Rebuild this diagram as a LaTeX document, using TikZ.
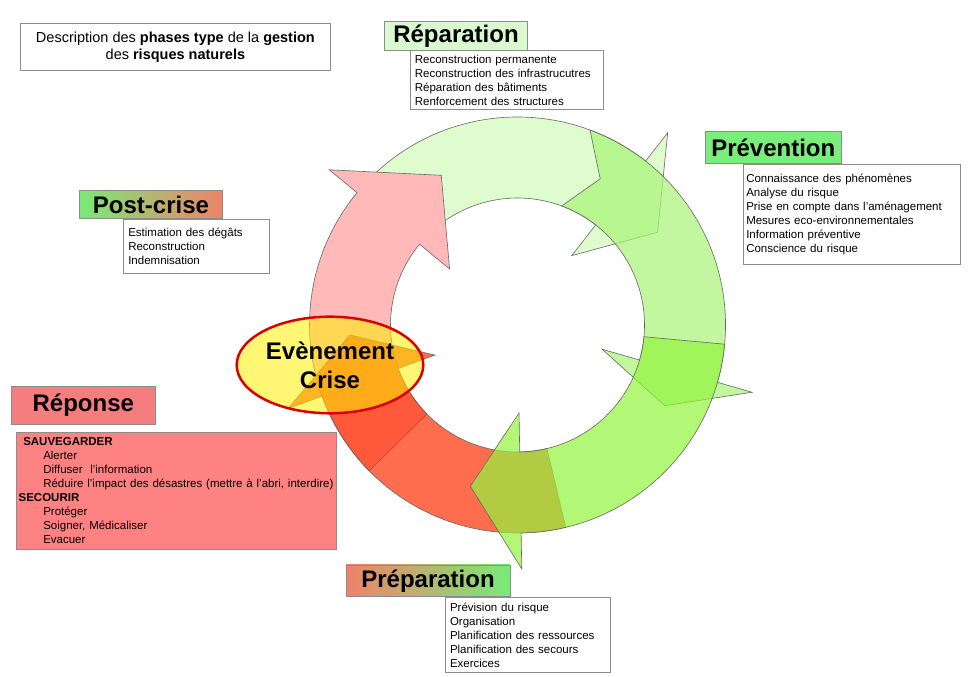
\documentclass[tikz,border=0pt]{standalone}
\usepackage{fontspec}
\setmainfont{Liberation Sans}
\usetikzlibrary{shapes.geometric,positioning}
\definecolor{repTitre}{RGB}{218,249,208}
\definecolor{prevTitre}{RGB}{122,238,122}
\definecolor{saumon}{RGB}{240,130,105}
\definecolor{vertT}{RGB}{120,235,120}
\definecolor{repoTitre}{RGB}{245,125,125}
\definecolor{repoFond}{RGB}{255,130,130}
\definecolor{arcRepC}{RGB}{208,251,184}
\definecolor{arcPostC}{RGB}{255,185,185}
\definecolor{arcRepoC}{RGB}{255,48,5}
\definecolor{arcPrevC}{RGB}{169,244,119}
\definecolor{arcPrepC}{RGB}{148,244,62}
\begin{document}
\begin{tikzpicture}[x=1pt, y=1pt,
    titre/.style={draw=black!45, line width=0.8pt, inner sep=0pt, font=\fontsize{24}{28}\selectfont\bfseries},
    liste/.style={draw=black!45, fill=white, line width=0.8pt, inner xsep=5pt, inner ysep=0pt,
      align=left, anchor=north west, font=\fontsize{11.5}{14}\selectfont},
    fleche/.style={draw=black!60, line width=0.6pt, fill opacity=0.7},
    arcRep/.style={fleche, fill=arcRepC},
    arcPost/.style={fleche, fill=arcPostC, fill opacity=1},
    arcRepo/.style={fleche, fill=arcRepoC},
    arcPrev/.style={fleche, fill=arcPrevC},
    arcPrep/.style={fleche, fill=arcPrepC},
    crise/.style={ellipse, draw=red!85!black, line width=2.5pt, fill={rgb,255:red,255;green,240;blue,0},
      fill opacity=0.55, text opacity=1, inner sep=0pt, align=center,
      font=\fontsize{24}{29}\selectfont\bfseries}]
  % Fond
  \fill[white] (0,0) rectangle (980,677);
  \useasboundingbox (0,0) rectangle (980,677);
  % Cycle (queue / ailes / pointe / encoche, en degres)
  \begin{scope}[shift={(517.5,352)}]
    \foreach \ta/\tw/\tp/\tn/\sty in {
        135/52/33.5/135/arcRep,
        224.5/140.5/117/224.5/arcPost,
        -76.6/-160/-176.6/-76.6/arcRepo,
        69.6/-16/-28.7/60.5/arcPrev,
        -5.3/-89/-106.3/-5.3/arcPrep}{
      \path[\sty] (\ta:208) arc[start angle=\ta, end angle=\tw, radius=208]
        -- (\tw:244) -- (\tp:168) -- (\tw:88) -- (\tw:127)
        arc[start angle=\tw, end angle=\ta, radius=127] -- (\tn:168) -- cycle;
    }
  \end{scope}
  % Evenement
  \node[crise, minimum width=186.6, minimum height=96.6] (evt) at (330,312) {Evènement\\Crise};
  % Titre
  \node[draw=black!45, line width=0.8pt, minimum width=309.6, minimum height=47.4, inner sep=0pt,
    align=center, font=\fontsize{14.5}{16.8}\selectfont] (desc) at (175.4,630)
    {Description des \textbf{phases type} de la \textbf{gestion}\\des \textbf{risques naturels}};
  % Phases
  \node[titre, fill=repTitre, minimum width=143.6, minimum height=28.3] (repT) at (456,641.1) {Réparation};
  \node[liste, text width=183, minimum height=59] (repL) at ([xshift=25.7]repT.south west)
    {Reconstruction permanente\\Reconstruction des infrastrucutres\\Réparation des bâtiments\\Renforcement des structures};
  \node[titre, fill=prevTitre, minimum width=136.7, minimum height=31.6] (prevT) at (773.3,529.5) {Prévention};
  \node[liste, inner xsep=3pt, text width=210.7, minimum height=100.7] (prevL) at ([xshift=38.3]prevT.south west)
    {Connaissance des phénomènes\\Analyse du risque\\Prise en compte dans l'aménagement\\Mesures eco-environnementales\\Information préventive\\Conscience du risque};
  \node[titre, left color=vertT, right color=saumon, minimum width=143.4, minimum height=27.6] (postT) at (151,472.5) {Post-crise};
  \node[liste, text width=136, minimum height=54.6] (postL) at ([xshift=44]postT.south west)
    {Estimation des dégâts\\Reconstruction\\Indemnisation};
  \node[titre, fill=repoTitre, minimum width=143.3, minimum height=38.3] (repoT) at (83.3,271.8) {Réponse};
  \node[liste, fill=repoFond, inner xsep=2pt, text width=316, minimum height=116.6] (repoL) at ([xshift=5, yshift=-7.4]repoT.south west)
    {\hspace*{4.6pt}\textbf{SAUVEGARDER}\\\hspace*{24.6pt}Alerter\\\hspace*{24.6pt}Diffuser~~l'information\\
     \hspace*{24.6pt}Réduire l'impact des désastres (mettre à l'abri, interdire)\\\textbf{SECOURIR}\\
     \hspace*{24.6pt}Protéger\\\hspace*{24.6pt}Soigner, Médicaliser\\\hspace*{24.6pt}Evacuer};
  \node[titre, left color=saumon, right color=vertT, minimum width=164, minimum height=31.7] (prepT) at (428,96.2) {Préparation};
  \node[liste, text width=155, minimum height=75] (prepL) at ([xshift=99]prepT.south west)
    {Prévision du risque\\Organisation\\Planification des ressources\\Planification des secours\\Exercices};
\end{tikzpicture}
\end{document}
